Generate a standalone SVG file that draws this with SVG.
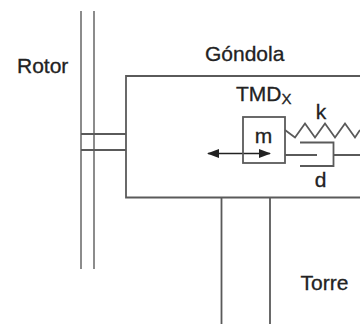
<svg xmlns="http://www.w3.org/2000/svg" width="360" height="324" viewBox="0 0 360 324">
<style>
.l{fill:none;stroke:#5a5a5a;stroke-width:1.800}
.g{fill:none;stroke:#808080;stroke-width:1.800}
text{font-family:"Liberation Sans",Arial,sans-serif;fill:#222;stroke:#222;stroke-width:0.300;font-size:21px}
</style>
<defs>
<marker id="a" markerWidth="13" markerHeight="11" refX="11" refY="5.500" orient="auto-start-reverse" markerUnits="userSpaceOnUse"><path d="M0 1L12 5.500L0 10Z" fill="#222"/></marker>
</defs>
<rect width="360" height="324" fill="#fff"/>
<g id="connectors">
<path class="g" d="M81 11V269M94 11V269"/>
<path class="l" d="M81 134H126M81 150H126"/>
<path class="l" d="M360 76H126V197.500H360"/>
<path class="l" d="M221.500 198V324M270 198V324"/>
<path class="l" d="M285 130L295 137.500L305 123.500L315 137.500L325 123.500L335 137.500L345 123.500L355 137.500L360 130"/>
<path class="l" d="M285 155H317M300 142.500H333.500V166H300M333.500 155H360"/>
<path d="M208 153.500H270" fill="none" stroke="#222" stroke-width="1.600" marker-start="url(#a)" marker-end="url(#a)"/>
</g>
<g id="m"><rect class="l" x="243" y="117" width="42" height="46"/><text x="263.500" y="143" text-anchor="middle">m</text></g>
<g id="rotor"><text x="17" y="72.500">Rotor</text></g>
<g id="gondola"><text x="205" y="61">Góndola</text></g>
<g id="tmd"><text x="236" y="101">TMD<tspan font-size="15" dy="2.500">X</tspan></text></g>
<g id="k"><text x="321" y="119" text-anchor="middle">k</text></g>
<g id="d"><text x="320.500" y="187" text-anchor="middle">d</text></g>
<g id="torre"><text x="300.500" y="290">Torre</text></g>
</svg>
